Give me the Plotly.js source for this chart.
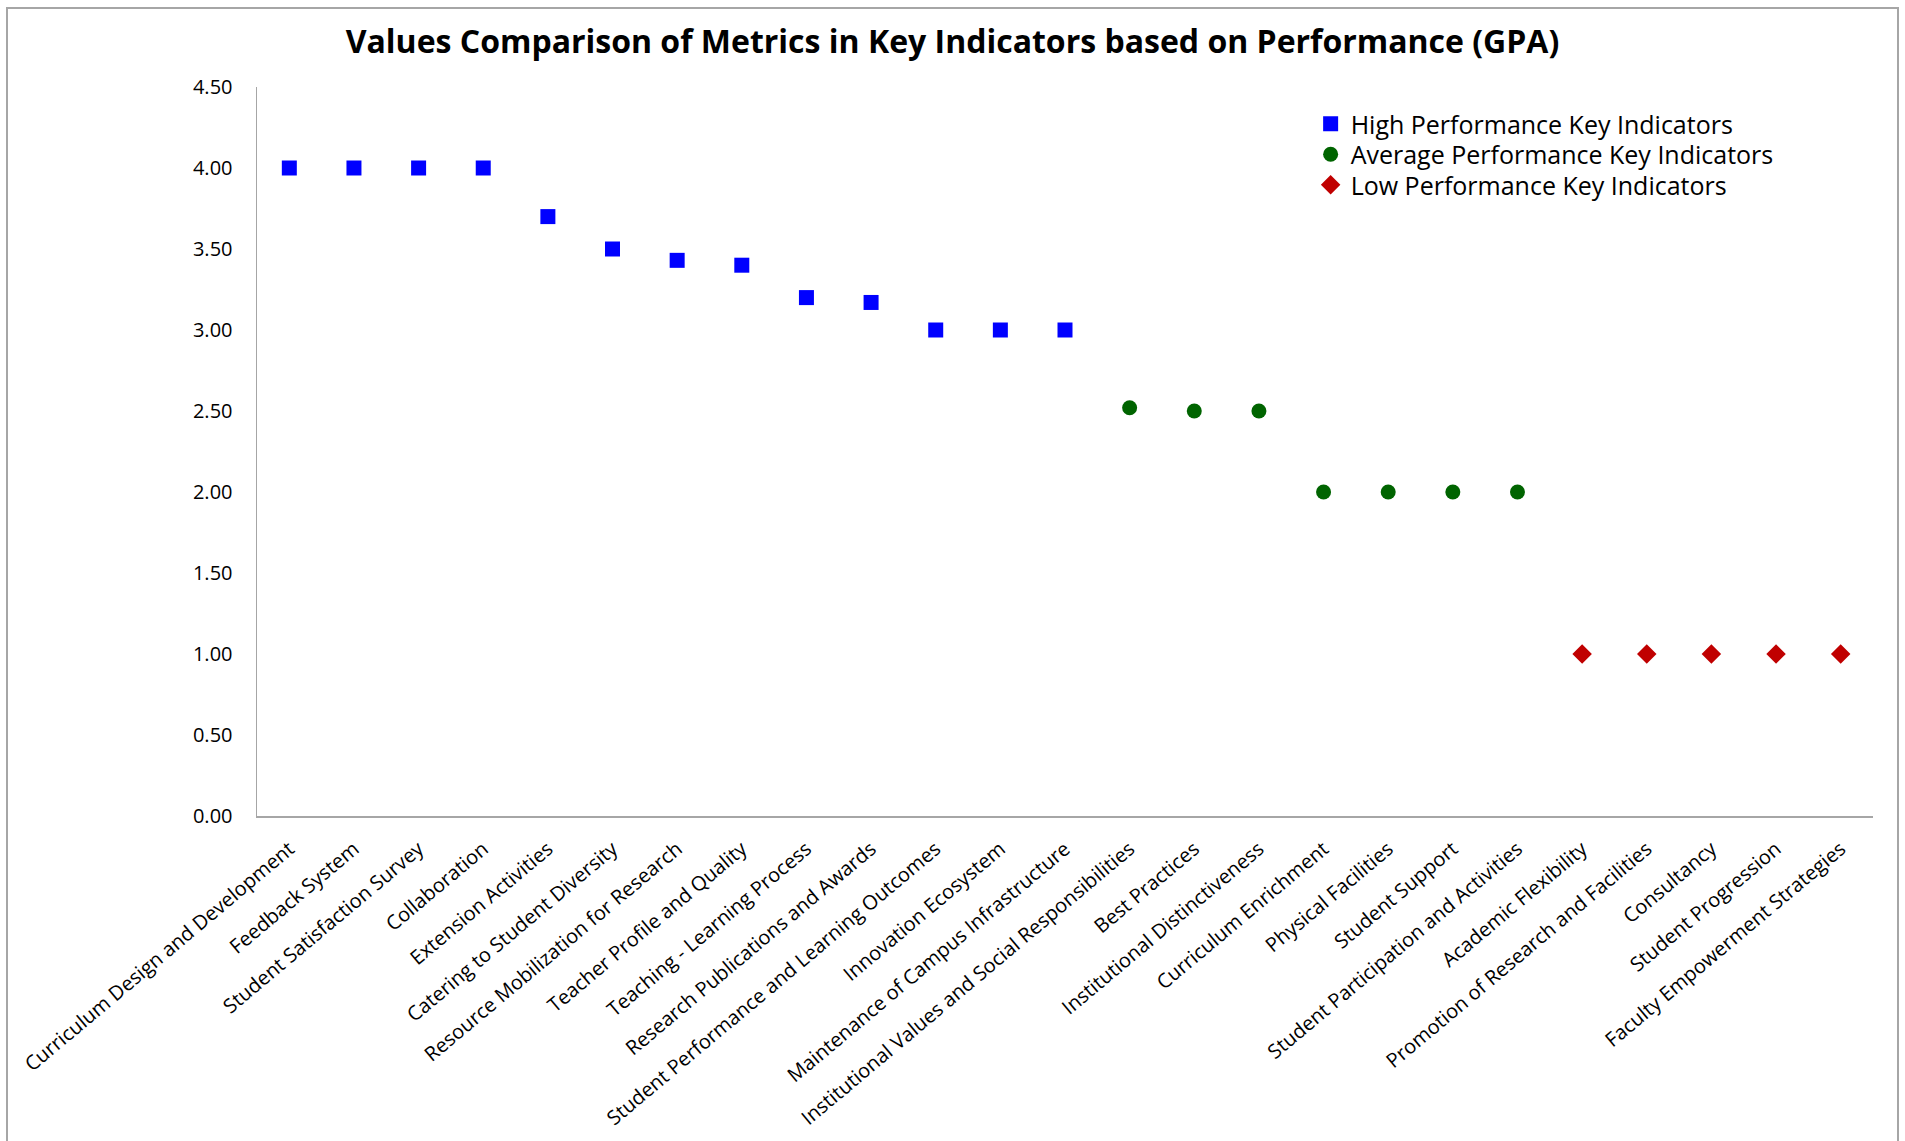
<!DOCTYPE html>
<html>
<head>
<meta charset="utf-8">
<script src="https://cdn.plot.ly/plotly-3.0.1.min.js"></script>
<style>
  html, body { margin: 0; padding: 0; background: #fff; }
  #frame { position: absolute; left: 6px; top: 7px; width: 1893px; height: 1160px; border: 2px solid #a6a6a6; box-sizing: border-box; pointer-events: none; }
  #chart { position: absolute; left: 0; top: 0; width: 1905px; height: 1141px; }
</style>
</head>
<body>
<div id="chart"></div>
<div id="frame"></div>
<script>
// Category order on the x axis
const categories = [
  "Curriculum Design and Development", "Feedback System", "Student Satisfaction Survey", "Collaboration",
  "Extension Activities", "Catering to Student Diversity", "Resource Mobilization for Research",
  "Teacher Profile and Quality", "Teaching - Learning Process", "Research Publications and Awards",
  "Student Performance and Learning Outcomes", "Innovation Ecosystem", "Maintenance of Campus Infrastructure",
  "Institutional Values and Social Responsibilities", "Best Practices", "Institutional Distinctiveness",
  "Curriculum Enrichment", "Physical Facilities", "Student Support", "Student Participation and Activities",
  "Academic Flexibility", "Promotion of Research and Facilities", "Consultancy", "Student Progression",
  "Faculty Empowerment Strategies"
];

const highCategories = categories.slice(0, 13);
const highValues = [4.00, 4.00, 4.00, 4.00, 3.70, 3.50, 3.43, 3.40, 3.20, 3.17, 3.00, 3.00, 3.00];

const avgCategories = categories.slice(13, 20);
const avgValues = [2.52, 2.50, 2.50, 2.00, 2.00, 2.00, 2.00];

const lowCategories = categories.slice(20, 25);
const lowValues = [1.00, 1.00, 1.00, 1.00, 1.00];

const yTicks = [0, 0.5, 1, 1.5, 2, 2.5, 3, 3.5, 4, 4.5];
const yTickLabels = ["0.00", "0.50", "1.00", "1.50", "2.00", "2.50", "3.00", "3.50", "4.00", "4.50"];

const seriesNames = ["High Performance Key Indicators", "Average Performance Key Indicators", "Low Performance Key Indicators"];

const traces = [
  { x: highCategories, y: highValues, name: seriesNames[0], type: "scatter", mode: "markers",
    marker: { symbol: "square", size: 15, color: "#0000ff" }, legend: "legend" },
  { x: avgCategories, y: avgValues, name: seriesNames[1], type: "scatter", mode: "markers",
    marker: { symbol: "circle", size: 15, color: "#006400" }, legend: "legend2" },
  { x: lowCategories, y: lowValues, name: seriesNames[2], type: "scatter", mode: "markers",
    marker: { symbol: "diamond", size: 15, color: "#c00000" }, legend: "legend3" }
];

function legendAt(yPaper) {
  return {
    x: 0.652, y: yPaper, xanchor: "left", yanchor: "middle",
    font: { size: 25, family: "Open Sans, sans-serif", color: "#000" },
    bgcolor: "rgba(0,0,0,0)", itemsizing: "trace"
  };
}

const layout = {
  width: 1905, height: 1141,
  paper_bgcolor: "rgba(0,0,0,0)", plot_bgcolor: "#ffffff",
  margin: { l: 257, r: 32, t: 87, b: 325 },
  font: { family: "Open Sans, sans-serif", color: "#000000" },
  title: {
    text: "<b>Values Comparison of Metrics in Key Indicators based on Performance (GPA)</b>",
    font: { family: "Open Sans, sans-serif", size: 32, color: "#000000" },
    x: 0.5, xref: "container", y: 0.963, yref: "container", yanchor: "middle"
  },
  xaxis: {
    type: "category", categoryorder: "array", categoryarray: categories,
    range: [-0.5, categories.length - 0.5],
    tickangle: -40, tickfont: { size: 20, family: "Open Sans, sans-serif", color: "#000" },
    showgrid: false, zeroline: false, showline: true, linecolor: "#a6a6a6", linewidth: 1.5,
    ticks: "outside", ticklen: 12, tickcolor: "rgba(0,0,0,0)", automargin: false
  },
  yaxis: {
    range: [0, 4.5], tickvals: yTicks, ticktext: yTickLabels,
    tickfont: { size: 20, family: "Open Sans, sans-serif", color: "#000" },
    showgrid: false, zeroline: false, showline: true, linecolor: "#a6a6a6", linewidth: 1.5,
    ticks: "outside", ticklen: 19, tickcolor: "rgba(0,0,0,0)", automargin: false
  },
  legend: legendAt((816 - 124) / 729),
  legend2: legendAt((816 - 154.5) / 729),
  legend3: legendAt((816 - 185) / 729),
  showlegend: true
};

Plotly.newPlot("chart", traces, layout, { displayModeBar: false, staticPlot: true });
</script>
</body>
</html>
